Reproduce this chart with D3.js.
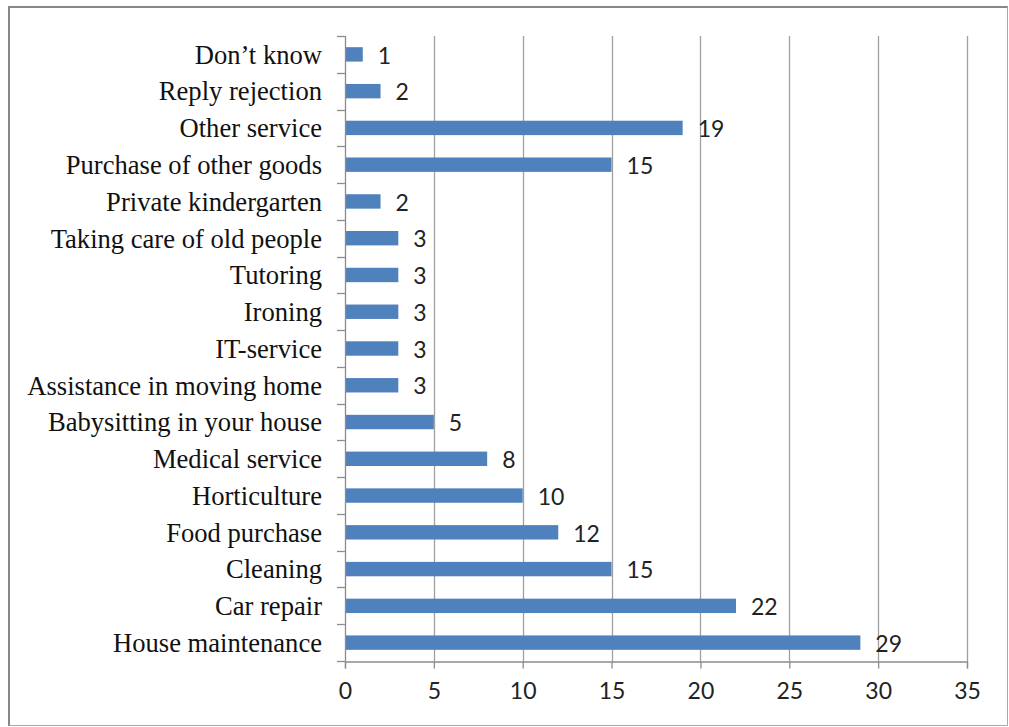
<!DOCTYPE html>
<html>
<head>
<meta charset="utf-8">
<script src="https://cdn.jsdelivr.net/npm/d3@7"></script>
<style>
  html, body { margin: 0; padding: 0; background: #fff; }
  svg { display: block; }
</style>
</head>
<body>
<div id="chart"></div>
<script>
const categories = [
  "Don’t know",
  "Reply rejection",
  "Other service",
  "Purchase of other goods",
  "Private kindergarten",
  "Taking care of old people",
  "Tutoring",
  "Ironing",
  "IT-service",
  "Assistance in moving home",
  "Babysitting in your house",
  "Medical service",
  "Horticulture",
  "Food purchase",
  "Cleaning",
  "Car repair",
  "House maintenance"
];
const values = [1, 2, 19, 15, 2, 3, 3, 3, 3, 3, 5, 8, 10, 12, 15, 22, 29];
const xTicks = [0, 5, 10, 15, 20, 25, 30, 35];

const W = 1009, H = 727;
const plot = { left: 345, right: 967, top: 36, bottom: 661 };
const numFont = "Lato, 'Open Sans', sans-serif";

const svg = d3.select("#chart").append("svg")
  .attr("width", W).attr("height", H);

svg.append("rect").attr("width", W).attr("height", H).attr("fill", "#fff");

// outer frame: darker left/top, lighter right/bottom
const frame = svg.append("g");
frame.append("line").attr("x1", 9).attr("x2", 1008).attr("y1", 7).attr("y2", 7)
  .attr("stroke", "#888").attr("stroke-width", 2);
frame.append("line").attr("x1", 9).attr("x2", 9).attr("y1", 6).attr("y2", 726)
  .attr("stroke", "#888").attr("stroke-width", 2);
frame.append("line").attr("x1", 1007.5).attr("x2", 1007.5).attr("y1", 7).attr("y2", 726)
  .attr("stroke", "#aaa").attr("stroke-width", 1);
frame.append("line").attr("x1", 9).attr("x2", 1008).attr("y1", 725.5).attr("y2", 725.5)
  .attr("stroke", "#aaa").attr("stroke-width", 1);

const x = d3.scaleLinear().domain([0, 35]).range([plot.left, plot.right]);
const yb = d3.scaleBand().domain(categories).range([plot.top, plot.bottom]);

// gridlines
svg.append("g").selectAll("line").data(xTicks.filter(d => d > 0)).join("line")
  .attr("x1", d => Math.round(x(d)) + 0.5).attr("x2", d => Math.round(x(d)) + 0.5)
  .attr("y1", plot.top).attr("y2", plot.bottom)
  .attr("stroke", "#a0a0a0").attr("stroke-width", 1.3);

// bars
svg.append("g").selectAll("rect").data(categories).join("rect")
  .attr("x", plot.left)
  .attr("y", d => yb(d) + yb.bandwidth() / 2 - 7.2)
  .attr("width", (d, i) => x(values[i]) - x(0))
  .attr("height", 14.4)
  .attr("fill", "#4f81bd");

// x axis
const xAxis = d3.axisBottom(x).tickValues(xTicks).tickSize(7).tickPadding(14);
const gx = svg.append("g").attr("transform", `translate(0,${plot.bottom + 0.5})`).call(xAxis);
gx.select(".domain").attr("stroke", "#8c8c8c").attr("stroke-width", 1.3);
gx.selectAll(".tick line").attr("stroke", "#8c8c8c").attr("stroke-width", 1.3);
gx.selectAll(".tick text")
  .attr("font-family", numFont)
  .attr("font-size", 23).attr("fill", "#222");

// y axis line and ticks at band boundaries
svg.append("line")
  .attr("x1", plot.left + 0.5).attr("x2", plot.left + 0.5)
  .attr("y1", plot.top).attr("y2", plot.bottom)
  .attr("stroke", "#8c8c8c").attr("stroke-width", 1.3);
const boundaries = categories.map(c => yb(c)).concat([plot.bottom]);
svg.append("g").selectAll("line").data(boundaries).join("line")
  .attr("x1", plot.left - 8).attr("x2", plot.left)
  .attr("y1", d => Math.round(d) + 0.5).attr("y2", d => Math.round(d) + 0.5)
  .attr("stroke", "#8c8c8c").attr("stroke-width", 1.3);

// category labels
svg.append("g").selectAll("text").data(categories).join("text")
  .attr("x", 322)
  .attr("y", d => yb(d) + yb.bandwidth() / 2)
  .attr("text-anchor", "end").attr("dy", "0.35em")
  .attr("font-family", "'Liberation Serif', serif")
  .attr("font-size", 26.6).attr("fill", "#111")
  .text(d => d);

// data labels
svg.append("g").selectAll("text").data(categories).join("text")
  .attr("x", (d, i) => x(values[i]) + 15)
  .attr("y", d => yb(d) + yb.bandwidth() / 2)
  .attr("dy", "0.4em")
  .attr("font-family", numFont)
  .attr("font-size", 23).attr("fill", "#222")
  .text((d, i) => values[i]);
</script>
</body>
</html>
